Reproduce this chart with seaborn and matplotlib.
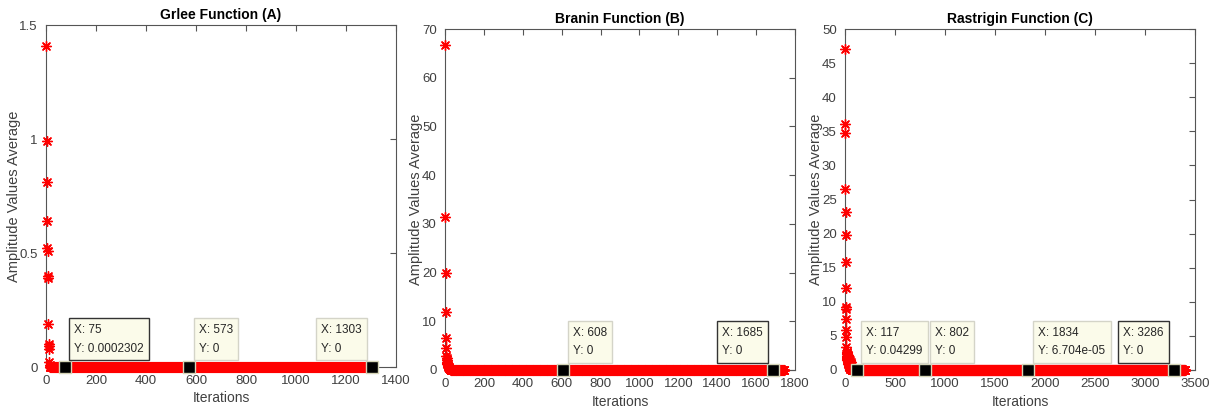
import numpy as np
import pandas as pd
import seaborn as sns
import matplotlib.pyplot as plt

sns.set_style("white")
plt.rcParams['font.family'] = ['Liberation Sans', 'DejaVu Sans']

# early (non-zero) averages per function, then the runs settle at 0
grlee_early = [1.41, 0.99, 0.81, 0.64, 0.52, 0.51, 0.40, 0.39, 0.19, 0.10, 0.09, 0.08, 0.02, 0.01]
branin_early = [66.8, 31.4, 19.9, 11.9, 6.5, 4.6, 2.8, 2.4, 2.0, 1.7, 1.5, 1.3, 1.1, 1.0,
                0.9, 0.8, 0.7, 0.6, 0.6, 0.5, 0.5, 0.4, 0.4, 0.3, 0.3, 0.3, 0.2, 0.2]
rastrigin_early = [47.0, 36.1, 34.8, 26.5, 23.2, 19.8, 15.9, 12.0, 9.2, 8.9, 7.5, 5.9, 4.9,
                   3.3, 2.7, 2.5, 2.3, 2.6, 1.9, 2.1, 1.6, 2.4, 1.8, 1.4, 2.2, 1.5, 1.2, 2.0,
                   1.7, 1.1, 1.9, 1.3, 0.9, 1.6, 1.0, 0.8, 1.4, 0.7, 1.1, 0.6, 0.9, 0.5,
                   0.8, 0.4, 0.6, 0.3, 0.5, 0.3, 0.2, 0.2, 1.2, 0.7, 1.5, 0.4, 0.9, 1.1,
                   0.3, 0.6, 0.8, 0.2, 0.5, 0.4, 0.3, 0.2, 0.1]
grlee_n = 1303
branin_n = 1745
rastrigin_n = 3400

# data tips shown on each plot
grlee_tips_x = [75, 573, 1303]
grlee_tips_y = [0.0002302, 0, 0]
grlee_tips_lbl = ["0.0002302", "0", "0"]
branin_tips_x = [608, 1685]
branin_tips_y = [0, 0]
branin_tips_lbl = ["0", "0"]
rastrigin_tips_x = [117, 802, 1834, 3286]
rastrigin_tips_y = [0.04299, 0, 6.704e-05, 0]
rastrigin_tips_lbl = ["0.04299", "0", "6.704e-05", "0"]

titles = ["Grlee Function (A)", "Branin Function (B)", "Rastrigin Function (C)"]
x_limits = [1400, 1800, 3500]
x_steps = [200, 200, 500]
y_ticks = [[0, 0.5, 1, 1.5], list(range(0, 71, 10)), list(range(0, 51, 5))]
y_ticklabels = [["0", "0.5", "1", "1.5"], None, None]


def series(early, n):
    vals = np.concatenate([np.array(early, dtype=float), np.zeros(n - len(early))])
    return pd.DataFrame({"it": np.arange(1, n + 1), "val": vals})


datasets = [series(grlee_early, grlee_n), series(branin_early, branin_n),
            series(rastrigin_early, rastrigin_n)]
tips = [(grlee_tips_x, grlee_tips_y, grlee_tips_lbl),
        (branin_tips_x, branin_tips_y, branin_tips_lbl),
        (rastrigin_tips_x, rastrigin_tips_y, rastrigin_tips_lbl)]

fig = plt.figure(figsize=(12.11, 4.13), dpi=100)
lefts = [46 / 1211, 445 / 1211, 845 / 1211]
bottoms = [(413 - 367) / 413, (413 - 370) / 413, (413 - 370) / 413]
tops = [(413 - 25) / 413, (413 - 29) / 413, (413 - 29) / 413]

spine_col = "#555555"
for i in range(3):
    ax = fig.add_axes([lefts[i], bottoms[i], 350 / 1211, tops[i] - bottoms[i]])
    df = datasets[i]
    sns.scatterplot(data=df, x="it", y="val", ax=ax, color="red", marker=(8, 2, 0),
                    s=50, linewidth=1.0, clip_on=False, zorder=3)
    tx, ty, tl = tips[i]
    sns.scatterplot(x=tx, y=ty, ax=ax, marker="s", color="black", edgecolor="#d6d6b8",
                    s=75, linewidth=1.0, clip_on=False, zorder=5)
    for j, (x, y, lbl) in enumerate(zip(tx, ty, tl)):
        last = j == len(tx) - 1
        selected = (i == 0 and j == 0) or (i > 0 and last)
        ax.annotate("X: %d\nY: %s" % (x, lbl), xy=(x, 0), xytext=(-7 if last else 7, 9),
                    textcoords="offset points", ha="right" if last else "left", va="bottom",
                    multialignment="left", fontsize=8.5, color="#262626", linespacing=1.75,
                    zorder=6,
                    bbox=dict(boxstyle="square,pad=0.45", fc="#fbfbea",
                              ec="#333333" if selected else "#d4d4c8", lw=1.0))
    ax.set_xlim(0, x_limits[i])
    ax.set_xticks(np.arange(0, x_limits[i] + 1, x_steps[i]))
    ax.set_ylim(y_ticks[i][0], y_ticks[i][-1])
    ax.set_yticks(y_ticks[i])
    if y_ticklabels[i]:
        ax.set_yticklabels(y_ticklabels[i])
    for s in ax.spines.values():
        s.set_color(spine_col)
        s.set_linewidth(0.8)
    ax.tick_params(direction="in", length=4, width=0.8, colors=spine_col,
                   top=True, right=True, labelsize=9.5, labelcolor="#404040", pad=6)
    ax.set_xlabel("Iterations", fontsize=10, color="#404040", labelpad=3)
    ax.set_ylabel("Amplitude Values Average", fontsize=10.5, color="#404040", labelpad=-1)
    ax.set_title(titles[i], fontsize=10, fontweight="bold", color="black", pad=4)

fig.savefig("out.png", dpi=100)
